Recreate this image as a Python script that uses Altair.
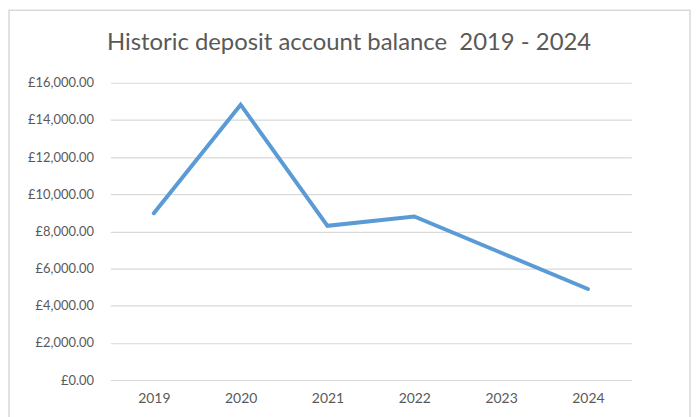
import altair as alt
import pandas as pd

years = ["2019", "2020", "2021", "2022", "2023", "2024"]
balances = [8980, 14820, 8300, 8800, 6850, 4900]
title_text = "Historic deposit account balance  2019 - 2024"
y_ticks = [0, 2000, 4000, 6000, 8000, 10000, 12000, 14000, 16000]

df = pd.DataFrame({"year": years, "balance": balances})

FONT = "Lato"
GREY = "#595959"

line = alt.Chart(df).mark_line(
    color="#5b9bd5", strokeWidth=4, strokeCap="round", strokeJoin="miter"
).encode(
    x=alt.X("year:O", sort=years,
            scale=alt.Scale(type="point", padding=0.5),
            axis=alt.Axis(title=None, labelAngle=0, ticks=False, domain=False,
                          grid=False, labelPadding=12, labelFontSize=14,
                          labelColor=GREY, labelFont=FONT)),
    y=alt.Y("balance:Q",
            scale=alt.Scale(domain=[0, 16000], nice=False),
            axis=alt.Axis(title=None, values=y_ticks, ticks=False, domain=False,
                          format="$,.2f", labelPadding=17, labelFontSize=13,
                          labelColor=GREY, labelFont=FONT,
                          gridColor="#d9d9d9", gridWidth=1.2)),
)

border = alt.Chart(alt.Data(values=[{}])).mark_rect(
    fill=None, stroke="#d9d9d9", strokeWidth=1.5, clip=False
).encode(
    x=alt.value(-102), x2=alt.value(583),
    y=alt.value(-73), y2=alt.value(360),
)

title = alt.Chart(alt.Data(values=[{"t": title_text.replace("  ", "\u00a0 ")}])).mark_text(
    font=FONT, fontSize=24, color=GREY, align="center", baseline="alphabetic",
    clip=False
).encode(
    text="t:N", x=alt.value(240), y=alt.value(-33),
)

chart = alt.layer(border, line, title).properties(
    width=524,
    height=299,
    autosize=alt.AutoSizeParams(type="none"),
    padding={"left": 103, "top": 74, "right": 60, "bottom": 40},
).configure(
    view={"stroke": None},
    locale={"number": {"decimal": ".", "thousands": ",", "grouping": [3],
                       "currency": ["£", ""]}},
)

chart.save("out.html", embed_options={"renderer": "svg", "actions": False})
